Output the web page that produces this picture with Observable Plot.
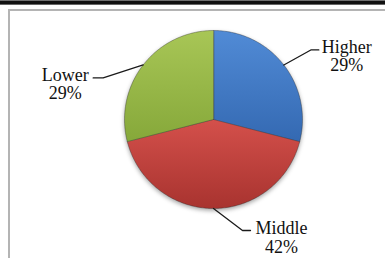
<!DOCTYPE html>
<html>
<head>
<meta charset="utf-8">
<script src="https://cdn.jsdelivr.net/npm/d3@7"></script>
<script src="https://cdn.jsdelivr.net/npm/@observablehq/plot@0.6"></script>
<style>
  html, body { margin: 0; padding: 0; background: #fff; width: 385px; height: 258px; overflow: hidden; }
  #topbar { position: absolute; left: 0; top: 0; width: 385px; height: 5px; background: linear-gradient(#d0d0d0 0px, #111 1px, #111 4px, #bbb 5px); }
  #box { position: absolute; left: 8px; top: 9px; width: 420px; height: 300px; border-left: 2px solid #b4b4b4; border-top: 2px solid #b4b4b4; }
  #chart { position: absolute; left: 0; top: 0; }
</style>
</head>
<body>
<div id="topbar"></div>
<div id="box"></div>
<div id="chart"></div>
<script>
// ---- data ----
const categories = ["Higher", "Middle", "Lower"];
const shares = [29, 42, 29];
const pctLabels = ["29%", "42%", "29%"];
const sliceColors = ["url(#gHigher)", "url(#gMiddle)", "url(#gLower)"];

// ---- layout constants (pixels) ----
const R = 89; // pie radius in px
const leaderOffsets = {
  Higher: {elbow: [27, -15], end: [35, -15], label: [28, -10.8]},
  Middle: {elbow: [29, 22], end: [37, 22], label: [31, -9.8]},
  Lower:  {elbow: [-40, 13], end: [-50, 13], label: [-28, -10.8]}
};

const rows = categories.map((c, i) => ({cat: c, share: shares[i], pct: pctLabels[i]}));
const arcs = d3.pie().sort(null).value(d => d.share)(rows);

// slice outlines in unit space (y up)
const slicePts = [];
for (const a of arcs) {
  slicePts.push({cat: a.data.cat, x: 0, y: 0});
  const n = Math.max(8, Math.ceil((a.endAngle - a.startAngle) / (Math.PI / 180)));
  for (let k = 0; k <= n; k++) {
    const t = a.startAngle + (a.endAngle - a.startAngle) * k / n;
    slicePts.push({cat: a.data.cat, x: Math.sin(t), y: Math.cos(t)});
  }
}

// leader lines and labels
const leaderPts = [];
const labelRows = [];
for (const a of arcs) {
  const m = (a.startAngle + a.endAngle) / 2;
  const ex = Math.sin(m), ey = Math.cos(m);
  const o = leaderOffsets[a.data.cat];
  const px = ([dx, dy]) => ({x: ex + dx / R, y: ey - dy / R});
  leaderPts.push({cat: a.data.cat, x: ex, y: ey});
  leaderPts.push({cat: a.data.cat, ...px(o.elbow)});
  const end = px(o.end);
  leaderPts.push({cat: a.data.cat, ...end});
  labelRows.push({cat: a.data.cat, text: a.data.cat + "\n" + a.data.pct,
    x: end.x + o.label[0] / R, y: end.y - o.label[1] / R});
}

const cx = 213, cy = 119;
const svg = Plot.plot({
  width: 385,
  height: 258,
  margin: 0,
  style: {background: "transparent", overflow: "visible"},
  x: {domain: [-1, 1], range: [cx - R, cx + R], axis: null},
  y: {domain: [-1, 1], range: [cy + R, cy - R], axis: null},
  color: {domain: categories, range: sliceColors},
  marks: [
    Plot.line(slicePts, {x: "x", y: "y", z: "cat", fill: "cat", stroke: "rgba(40,40,40,0.45)", strokeWidth: 0.8, curve: "linear-closed"}),
    Plot.line(leaderPts, {x: "x", y: "y", z: "cat", stroke: "#1a1a1a", strokeWidth: 1.3}),
    Plot.text(labelRows, {x: "x", y: "y", text: "text", textAnchor: "middle", lineAnchor: "top", lineHeight: 1.05,
      fontSize: 18, fontFamily: "Liberation Serif, serif", fill: "#111"})
  ]
});

const ns = "http://www.w3.org/2000/svg";
const defs = document.createElementNS(ns, "defs");
const grads = [["gHigher", "#518bd6", "#3469b2"], ["gMiddle", "#d4504b", "#a8332f"], ["gLower", "#a8c656", "#86a83a"]];
for (const [id, c1, c2] of grads) {
  const g = document.createElementNS(ns, "linearGradient");
  g.setAttribute("id", id);
  g.setAttribute("x1", "0"); g.setAttribute("y1", "0");
  g.setAttribute("x2", "0"); g.setAttribute("y2", "1");
  for (const [off, col] of [["0", c1], ["1", c2]]) {
    const s = document.createElementNS(ns, "stop");
    s.setAttribute("offset", off);
    s.setAttribute("stop-color", col);
    g.appendChild(s);
  }
  defs.appendChild(g);
}
svg.insertBefore(defs, svg.firstChild);
const pieG = svg.querySelector('g[aria-label="line"]');
if (pieG) pieG.style.filter = "drop-shadow(0px 2px 2px rgba(0,0,0,0.35))";
document.getElementById("chart").appendChild(svg);
</script>
</body>
</html>
